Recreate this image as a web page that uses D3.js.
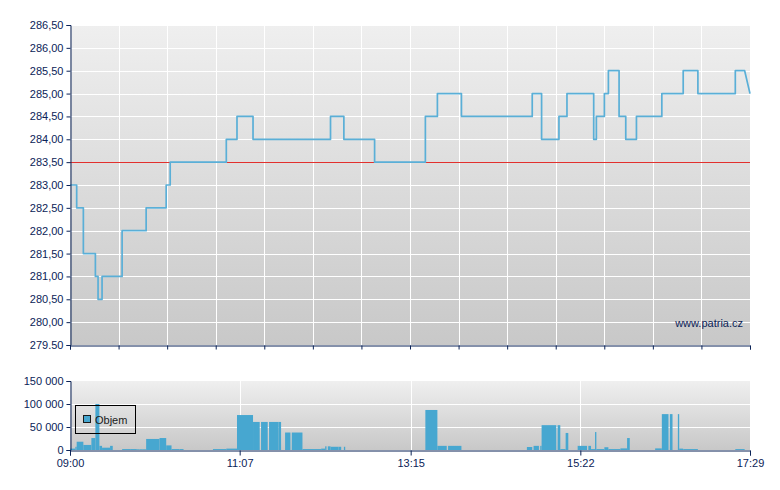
<!DOCTYPE html>
<html>
<head>
<meta charset="utf-8">
<script src="https://cdn.jsdelivr.net/npm/d3@7"></script>
<style>
  html, body { margin: 0; padding: 0; background: #ffffff; }
  svg { display: block; font-family: Arial, "Liberation Sans", sans-serif; }
</style>
</head>
<body>
<svg id="chart" width="780" height="490"></svg>
<script>
// ---------------- DATA ----------------
const sessionStart = "09:00";
const sessionEnd = "17:29";

// Price: each step starts at the given time with the given price
const stepTimes  = ["09:00","09:05","09:10","09:19","09:21","09:24","09:39","09:57","10:12","10:15","10:57","11:05","11:17","12:15","12:25","12:48","13:26","13:35","13:53","14:46","14:53","15:06","15:12","15:32","15:34","15:40","15:43","15:51","15:56","16:04","16:23","16:39","16:50","17:18","17:25"];
const stepPrices = [283.00, 282.50, 281.50, 281.00, 280.50, 281.00, 282.00, 282.50, 283.00, 283.50, 284.00, 284.50, 284.00, 284.50, 284.00, 283.50, 284.50, 285.00, 284.50, 285.00, 284.00, 284.50, 285.00, 284.00, 284.50, 285.00, 285.50, 284.50, 284.00, 284.50, 285.00, 285.50, 285.00, 285.50, 285.50];
const lastPrice = 285.00;          // at session end
const referencePrice = 283.50;     // red line

// Volume bars
const barStart = ["09:00","09:04","09:05","09:10","09:16","09:19","09:22","09:24","09:30","09:39","09:45","09:50","09:52","09:54","09:57","10:07","10:12","10:16","10:22","10:47","10:57","11:05","11:17","11:23","11:29","11:36","11:41","11:46","11:54","12:08","12:11","12:13","12:15","12:21","12:25","13:26","13:35","13:43","14:42","14:47","14:52","14:53","15:05","15:07","15:11","15:20","15:28","15:30","15:33","15:34","15:40","15:43","15:52","15:57","16:18","16:23","16:29","16:35","16:36","16:39","17:18"];
const barEnd   = ["09:04","09:05","09:10","09:16","09:19","09:22","09:24","09:30","09:32","09:45","09:50","09:52","09:54","09:57","10:07","10:12","10:16","10:22","10:25","10:57","11:05","11:17","11:22","11:28","11:36","11:38","11:45","11:54","12:08","12:11","12:12","12:15","12:21","12:23","12:26","13:35","13:42","13:53","14:46","14:51","14:53","15:04","15:07","15:11","15:13","15:27","15:30","15:33","15:34","15:40","15:43","15:52","15:57","15:59","16:23","16:28","16:31","16:36","16:39","16:50","17:25"];
const barVolume = [3000,7000,18000,11000,26000,100000,9000,5000,9000,2000,2000,1500,1500,1500,24000,26000,10000,2000,2000,2000,3000,76000,61000,61000,61000,61000,38000,38000,2000,3000,8000,8000,7000,7000,7000,87000,9000,9000,6500,9000,9000,54000,54000,2000,37000,9000,9000,2000,39000,2000,6000,2000,3500,26000,3500,78000,78000,78000,3000,2000,2000];

// Axis ticks / labels
const priceTicks = [279.5,280,280.5,281,281.5,282,282.5,283,283.5,284,284.5,285,285.5,286,286.5];
const priceTickLabels = ["279.50","280,00","280,50","281,00","281,50","282,00","282,50","283,00","283,50","284,00","284,50","285,00","285,50","286,00","286,50"];
const volumeTicks = [0, 50000, 100000, 150000];
const volumeTickLabels = ["0","50 000","100 000","150 000"];
const timeTickLabels = ["09:00","11:07","13:15","15:22","17:29"];
const topTimeDivisions = 14;
const legendLabel = "Objem";
const watermark = "www.patria.cz";

// ---------------- HELPERS ----------------
const toMin = s => { const [h, m] = s.split(":").map(Number); return h * 60 + m; };
const t0 = toMin(sessionStart), t1 = toMin(sessionEnd);
const rel = s => toMin(s) - t0;

const axisColor = "#0b2357";
const lineColor = "#5aafd7";
const barColor = "#47a7d0";

const svg = d3.select("#chart");
const defs = svg.append("defs");
const grad = defs.append("linearGradient").attr("id", "bg").attr("x1", 0).attr("y1", 0).attr("x2", 0).attr("y2", 1);
grad.append("stop").attr("offset", "0%").attr("stop-color", "#efefef");
grad.append("stop").attr("offset", "100%").attr("stop-color", "#c8c8c8");

// ---------------- SCALES ----------------
const x = d3.scaleLinear().domain([0, t1 - t0]).range([70, 750]);
const yP = d3.scaleLinear().domain([279.5, 286.5]).range([345, 25]);
const yV = d3.scaleLinear().domain([0, 150000]).range([450, 381]);

// ---------------- TOP PANEL ----------------
const topG = svg.append("g");
topG.append("rect").attr("x", x.range()[0]).attr("y", yP.range()[1])
  .attr("width", x.range()[1] - x.range()[0]).attr("height", yP.range()[0] - yP.range()[1])
  .attr("fill", "url(#bg)");

const topXTicks = d3.range(topTimeDivisions + 1).map(i => i * (t1 - t0) / topTimeDivisions);

// grid
topG.append("g").selectAll("line").data(priceTicks.slice(1)).join("line")
  .attr("x1", x.range()[0]).attr("x2", x.range()[1])
  .attr("y1", d => Math.round(yP(d)) + 0.5).attr("y2", d => Math.round(yP(d)) + 0.5)
  .attr("stroke", "#ffffff").attr("stroke-width", 1);
topG.append("g").selectAll("line").data(topXTicks.slice(1, -1)).join("line")
  .attr("x1", d => Math.round(x(d)) + 0.5).attr("x2", d => Math.round(x(d)) + 0.5)
  .attr("y1", yP.range()[1]).attr("y2", yP.range()[0])
  .attr("stroke", "#ffffff").attr("stroke-width", 1);

// reference line
topG.append("line").attr("x1", x.range()[0]).attr("x2", x.range()[1])
  .attr("y1", Math.round(yP(referencePrice)) + 0.5).attr("y2", Math.round(yP(referencePrice)) + 0.5)
  .attr("stroke", "#e2302d").attr("stroke-width", 1);

// price line (steps)
const pts = [];
stepTimes.forEach((t, i) => {
  if (i > 0) pts.push([rel(t), stepPrices[i - 1]]);
  pts.push([rel(t), stepPrices[i]]);
});
pts.push([t1 - t0, lastPrice]);
topG.append("path").datum(pts)
  .attr("d", d3.line().x(d => x(d[0])).y(d => yP(d[1])))
  .attr("fill", "none").attr("stroke", lineColor).attr("stroke-width", 1.7)
  .attr("stroke-linejoin", "round");

// axes
const yAxisP = d3.axisLeft(yP).tickValues(priceTicks).tickSize(4).tickPadding(3)
  .tickFormat((d, i) => priceTickLabels[i]);
topG.append("g").attr("transform", "translate(70.5,0)").call(yAxisP);
const xAxisTop = d3.axisBottom(x).tickValues(topXTicks).tickSize(4).tickFormat("");
topG.append("g").attr("transform", "translate(0,345.5)").call(xAxisTop);

topG.append("text").attr("x", 743).attr("y", 327).attr("text-anchor", "end")
  .attr("font-size", 11).attr("fill", axisColor).text(watermark);

// ---------------- BOTTOM PANEL ----------------
const botG = svg.append("g");
botG.append("rect").attr("x", x.range()[0]).attr("y", yV.range()[1])
  .attr("width", x.range()[1] - x.range()[0]).attr("height", yV.range()[0] - yV.range()[1])
  .attr("fill", "url(#bg)");

const botXTicks = timeTickLabels.map(rel);
botG.append("g").selectAll("line").data(volumeTicks.slice(1, -1)).join("line")
  .attr("x1", x.range()[0]).attr("x2", x.range()[1])
  .attr("y1", d => Math.round(yV(d)) + 0.5).attr("y2", d => Math.round(yV(d)) + 0.5)
  .attr("stroke", "#ffffff");
botG.append("g").selectAll("line").data(botXTicks.slice(1, -1)).join("line")
  .attr("x1", d => Math.round(x(d)) + 0.5).attr("x2", d => Math.round(x(d)) + 0.5)
  .attr("y1", yV.range()[1]).attr("y2", yV.range()[0])
  .attr("stroke", "#ffffff");

botG.append("g").selectAll("rect").data(barVolume).join("rect")
  .attr("x", (d, i) => x(rel(barStart[i])))
  .attr("width", (d, i) => Math.max(1, x(rel(barEnd[i])) - x(rel(barStart[i]))))
  .attr("y", d => yV(d))
  .attr("height", d => yV(0) - yV(d))
  .attr("fill", barColor);

const yAxisV = d3.axisLeft(yV).tickValues(volumeTicks).tickSize(4).tickPadding(3)
  .tickFormat((d, i) => volumeTickLabels[i]);
botG.append("g").attr("transform", "translate(70.5,0)").call(yAxisV);
const xAxisB = d3.axisBottom(x).tickValues(botXTicks).tickSize(5).tickPadding(4)
  .tickFormat((d, i) => timeTickLabels[i]);
botG.append("g").attr("transform", "translate(0,450.5)").call(xAxisB);

// legend
const lg = botG.append("g");
lg.append("rect").attr("x", 75.5).attr("y", 405.5).attr("width", 60).attr("height", 28)
  .attr("fill", "none").attr("stroke", "#000000").attr("stroke-width", 1);
lg.append("rect").attr("x", 83.5).attr("y", 415.5).attr("width", 7).attr("height", 7)
  .attr("fill", barColor).attr("stroke", "#1a1a1a").attr("stroke-width", 1);
lg.append("text").attr("x", 95).attr("y", 424).attr("font-size", 11).attr("fill", "#1a1a1a").text(legendLabel);

// axis styling
svg.selectAll(".domain").attr("stroke", axisColor).attr("stroke-width", 1);
svg.selectAll(".tick line").attr("stroke", axisColor);
svg.selectAll(".tick text").attr("fill", axisColor).attr("font-size", 11)
  .attr("font-family", "Arial, 'Liberation Sans', sans-serif");
</script>
</body>
</html>
